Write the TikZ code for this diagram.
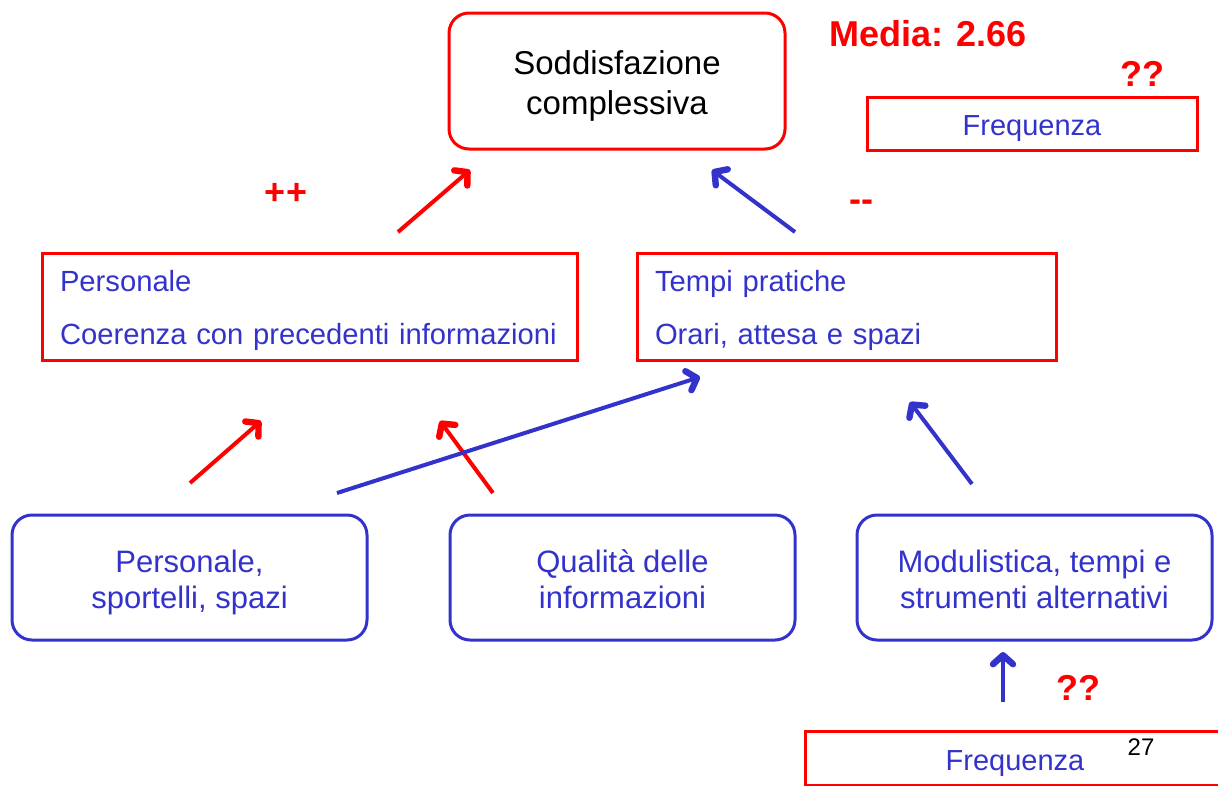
\documentclass[tikz,border=0pt]{standalone}
\usepackage{fontspec}
\setmainfont{Liberation Sans}
\usetikzlibrary{arrows.meta}
\definecolor{myred}{RGB}{255,0,0}
\definecolor{myblue}{RGB}{51,51,204}
\newcommand\lowtext[3]{\raisebox{-#1}[\height][\depth]{\begin{tabular}{@{}#2@{}}#3\end{tabular}}}
\begin{document}
\begin{tikzpicture}[x=1pt,y=-1pt,
  redbox/.style={draw=myred,line width=3pt,inner sep=0pt},
  bluebox/.style={draw=myblue,line width=3pt,rounded corners=20pt,inner sep=0pt,
    minimum width=355pt,minimum height=125pt,align=center,text=myblue,
    font=\fontsize{31}{36}\selectfont},
  midbox/.style={redbox,minimum width=535pt,minimum height=107pt,inner xsep=18pt,
    text width=499pt,align=left,text=myblue,font=\fontsize{29.2}{53}\selectfont},
  freqbox/.style={redbox,minimum height=53pt,text=myblue,font=\fontsize{29}{34}\selectfont},
  lbl/.style={text=myred,font=\fontsize{36}{40}\selectfont\bfseries,inner sep=0pt},
  tip/.style={-{Straight Barb[length=9pt,width=20pt,line width=0pt 1.6,round]}},
  redarr/.style={draw=myred,line width=4pt,tip},
  bluearr/.style={draw=myblue,line width=4pt,tip}
]
\useasboundingbox (0,0) rectangle (1218,785);
% boxes
\node[redbox,rounded corners=20pt,minimum width=336pt,minimum height=136pt,align=center,
  font=\fontsize{33}{40}\selectfont] (top) at (617,81) {\lowtext{5.5pt}{c}{Soddisfazione\\complessiva}};
\node[freqbox,minimum width=330pt] (freqtop) at (1032,123.5) {\lowtext{5pt}{c}{Frequenza}};
\node[midbox] (pers) at (309.5,306.5) {\lowtext{1pt}{l}{Personale\\Coerenza con precedenti informazioni}};
\node[midbox,minimum width=419pt,text width=383pt] (tempi) at (846.5,306.5) {\lowtext{1pt}{l}{Tempi pratiche\\Orari, attesa e spazi}};
\node[bluebox] (b1) at (189.5,577.5) {\lowtext{6pt}{c}{Personale,\\sportelli, spazi}};
\node[bluebox,minimum width=345pt] (b2) at (622.5,577.5) {\lowtext{6pt}{c}{Qualità delle\\informazioni}};
\node[bluebox] (b3) at (1034.5,577.5) {\lowtext{6pt}{c}{Modulistica, tempi e\\strumenti alternativi}};
\node[freqbox,minimum width=420pt,minimum height=54pt] (freqbot) at (1015,758) {\lowtext{6pt}{c}{Frequenza}};
% labels
\node[lbl] (media) at (928,34) {Media: 2.66};
\node[lbl] (q1) at (1142,74) {??};
\node[lbl] (q2) at (1078,688) {??};
\node[lbl] (pp) at (286,194) {++};
\node[lbl] (mm) at (861,206) {-{}-};
\node[font=\fontsize{24}{28}\selectfont,inner sep=0pt] (pg) at (1141,747) {27};
% arrow end points
\coordinate (a1s) at (398,232); \coordinate (a1e) at (470,170);
\coordinate (a2s) at (795,232); \coordinate (a2e) at (712,170);
\coordinate (a3s) at (190,483); \coordinate (a3e) at (261,421);
\coordinate (a4s) at (493,493); \coordinate (a4e) at (440,421);
\coordinate (a5s) at (337,493); \coordinate (a5e) at (700,377);
\coordinate (a6s) at (972,484); \coordinate (a6e) at (910,402);
\coordinate (a7s) at (1003,702); \coordinate (a7e) at (1003,652);
\draw[redarr] (a1s) -- (a1e);
\draw[bluearr] (a2s) -- (a2e);
\draw[redarr] (a3s) -- (a3e);
\draw[redarr] (a4s) -- (a4e);
\draw[bluearr] (a5s) -- (a5e);
\draw[bluearr] (a6s) -- (a6e);
\draw[bluearr] (a7s) -- (a7e);
\end{tikzpicture}
\end{document}
